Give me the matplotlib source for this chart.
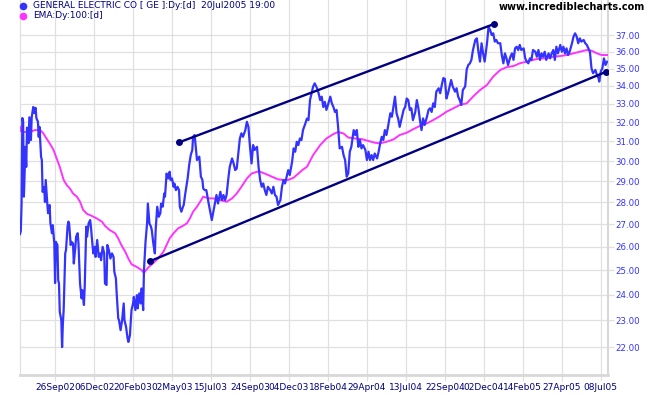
import matplotlib
matplotlib.use("Agg")
import matplotlib.pyplot as plt
from matplotlib.lines import Line2D
from matplotlib.ticker import FixedLocator, FixedFormatter, NullLocator, NullFormatter

# ---- data (trading-day index, price) ----
price_days = [0, 1, 2, 3, 4, 5, 7, 8, 9, 11, 12, 14, 15, 17, 18, 20, 21, 23, 24, 25,
              27, 28, 29, 31, 32, 33, 35, 36, 38, 39, 41, 42, 44, 45, 46, 48, 49, 50, 51, 53,
              54, 55, 56, 58, 59, 61, 62, 63, 65, 66, 68, 69, 71, 72, 74, 75, 77, 79, 80, 82,
              83, 85, 86, 88, 90, 91, 92, 94, 96, 97, 99, 101, 103, 104, 106, 108, 109, 111, 112, 114,
              116, 118, 120, 121, 123, 124, 126, 127, 129, 131, 133, 134, 136, 138, 139, 141, 143, 145, 146, 148,
              150, 151, 153, 155, 156, 158, 159, 161, 163, 164, 166, 168, 169, 171, 173, 174, 176, 178, 180, 181,
              183, 185, 186, 188, 190, 192, 193, 195, 197, 198, 200, 202, 204, 205, 207, 209, 210, 212, 214, 215,
              217, 219, 221, 222, 224, 227, 230, 232, 234, 235, 237, 239, 242, 244, 246, 248, 250, 252, 254, 257,
              259, 261, 263, 265, 267, 269, 272, 274, 276, 278, 280, 282, 284, 286, 289, 291, 293, 295, 297, 299,
              301, 304, 306, 308, 310, 312, 314, 316, 318, 321, 323, 325, 327, 329, 331, 334, 336, 338, 340, 342,
              344, 346, 349, 351, 353, 355, 357, 359, 361, 363, 366, 368, 370, 372, 374, 376, 378, 381, 383, 385,
              387, 389, 391, 393, 395, 398, 400, 402, 404, 406, 408, 410, 413, 415, 417, 419, 421, 423, 425, 428,
              430, 432, 434, 436, 438, 440, 443, 445, 447, 449, 451, 453, 455, 458, 460, 462, 464, 466, 468, 470,
              472, 475, 477, 479, 481, 483, 485, 487, 490, 492, 494, 496, 498, 500, 502, 504, 507, 509, 511, 513,
              515, 517, 519, 522, 524, 526, 528, 530, 532, 534, 537, 539, 541, 543, 545, 547, 549, 551, 553, 555,
              558, 560, 562, 564, 566, 568, 571, 573, 575, 577, 579, 581, 584, 586, 588, 590, 592, 594, 596, 599,
              601, 603, 605, 607, 609, 611, 613, 616, 618, 620, 622, 624, 626, 629, 631, 633, 635, 637, 639, 641,
              643, 646, 648, 650, 652, 654, 656, 658, 661, 663, 665, 667, 669, 671, 673, 675, 678, 680, 682, 684,
              686, 688, 690, 693, 695, 697, 699, 701, 703, 705, 708, 710, 712, 714, 716, 718, 720, 723, 725, 727,
              729, 731, 733, 735, 738, 740, 742, 743, 745, 747, 749, 751, 753]
price_vals = [26.56, 26.69, 27.88, 32.23, 32.06, 28.27, 30.72, 29.71, 31.72, 30.91, 32.27, 31.07, 32.27, 32.83, 32.50, 32.78, 32.23, 32.03, 31.24, 31.76,
              30.22, 30.05, 28.50, 28.73, 28.02, 29.07, 27.95, 27.50, 27.88, 27.04, 26.60, 26.96, 26.15, 24.48, 26.22, 26.08, 24.60, 24.46, 23.33, 23.01,
              22.00, 22.89, 23.40, 25.72, 25.86, 26.89, 27.12, 27.04, 26.08, 26.22, 26.15, 25.29, 26.00, 26.45, 26.60, 26.15, 24.46, 23.86, 24.19, 23.60,
              24.33, 26.89, 26.45, 27.04, 27.19, 26.89, 26.45, 25.72, 26.00, 25.57, 26.30, 25.57, 25.72, 25.43, 26.00, 25.72, 24.46, 24.40, 26.08, 25.86,
              25.50, 25.72, 25.57, 24.94, 24.67, 24.06, 23.08, 23.01, 22.63, 23.01, 23.66, 23.01, 22.76, 22.32, 22.19, 22.44, 23.40, 23.66, 23.92, 23.40,
              23.99, 23.47, 24.06, 23.66, 24.26, 23.40, 25.01, 26.22, 27.04, 27.95, 27.04, 26.89, 26.74, 26.15, 25.72, 26.74, 27.80, 27.34, 27.50, 27.95,
              27.80, 28.42, 28.27, 29.38, 29.14, 29.47, 29.07, 29.14, 28.74, 28.90, 28.58, 28.74, 28.58, 27.80, 27.57, 27.80, 27.88, 28.42, 28.90, 29.14,
              29.80, 30.30, 30.56, 31.24, 31.33, 30.05, 30.22, 29.23, 29.07, 28.66, 28.58, 28.58, 27.95, 27.57, 27.19, 27.57, 27.95, 28.35, 27.95, 28.50,
              28.11, 28.35, 28.11, 28.35, 29.07, 29.71, 30.13, 29.88, 29.55, 29.63, 30.38, 31.15, 31.42, 31.24, 31.59, 32.03, 31.76, 30.72, 29.88, 30.81,
              30.56, 30.72, 29.71, 29.07, 28.74, 28.90, 28.58, 28.35, 28.74, 28.58, 28.42, 28.74, 28.35, 28.27, 27.88, 28.11, 28.74, 29.07, 28.90, 29.23,
              29.55, 29.31, 29.96, 30.64, 30.47, 30.98, 30.81, 31.15, 31.07, 31.59, 31.94, 32.20, 32.12, 33.21, 33.59, 33.97, 34.15, 33.87, 33.59, 33.21,
              33.40, 32.83, 33.11, 32.67, 32.94, 33.40, 33.03, 32.83, 32.56, 32.67, 31.76, 30.64, 30.72, 30.30, 30.05, 29.23, 29.38, 30.47, 30.72, 31.59,
              31.33, 31.59, 30.72, 31.07, 30.64, 30.81, 30.56, 30.05, 30.47, 30.05, 30.30, 30.05, 30.38, 30.13, 30.47, 30.90, 31.24, 31.07, 31.59, 31.33,
              31.76, 32.49, 32.30, 32.83, 33.40, 32.49, 32.21, 31.76, 32.30, 32.67, 32.83, 33.30, 33.21, 32.67, 32.76, 32.12, 32.56, 33.21, 32.76, 32.12,
              31.59, 32.21, 31.86, 32.30, 32.67, 32.76, 32.56, 33.03, 32.83, 33.68, 33.87, 33.59, 34.06, 34.45, 34.40, 33.30, 33.59, 33.97, 34.34, 33.97,
              33.68, 33.87, 33.40, 33.21, 32.94, 33.77, 33.97, 34.96, 35.21, 35.30, 35.51, 36.10, 36.71, 36.81, 36.00, 35.41, 36.51, 35.90, 35.41, 36.51,
              37.53, 37.33, 37.02, 37.12, 36.61, 36.71, 36.51, 36.51, 35.80, 35.31, 35.90, 35.60, 35.21, 35.70, 35.90, 35.51, 36.20, 36.30, 36.10, 36.41,
              36.10, 36.20, 35.60, 35.41, 35.31, 35.60, 35.51, 36.10, 36.00, 35.70, 36.10, 35.51, 35.90, 35.70, 36.00, 35.51, 35.90, 35.60, 35.90, 36.10,
              35.51, 36.30, 35.90, 36.41, 36.00, 36.30, 35.90, 36.20, 35.80, 36.00, 36.51, 36.92, 37.12, 36.92, 36.51, 36.81, 36.61, 36.71, 36.51, 36.41,
              36.20, 36.00, 35.02, 34.73, 34.92, 34.63, 34.45, 34.25, 34.84, 35.02, 35.60, 35.21, 35.40]

ema_days = [0, 1, 6, 13, 19, 26, 30, 34, 38, 43, 47, 51, 56, 60, 64, 68, 73, 77, 81, 86,
            92, 98, 105, 109, 115, 122, 126, 130, 135, 139, 143, 150, 156, 159, 165, 171, 177, 184, 188, 192,
            197, 203, 209, 214, 218, 222, 227, 231, 235, 242, 248, 257, 265, 272, 278, 284, 291, 297, 304, 308,
            314, 323, 331, 338, 344, 351, 357, 363, 368, 376, 385, 393, 402, 408, 415, 421, 430, 438, 447, 455,
            462, 470, 479, 487, 496, 504, 513, 522, 530, 539, 547, 556, 564, 573, 581, 590, 599, 607, 616, 624,
            633, 641, 650, 658, 667, 675, 684, 693, 701, 710, 718, 727, 733, 740, 746, 753]
ema_vals = [31.76, 31.54, 31.49, 31.49, 31.59, 31.59, 31.41, 31.15, 30.90, 30.56, 30.13, 29.71, 29.07, 28.82, 28.66, 28.42, 28.27, 28.03, 27.65, 27.47,
            27.38, 27.27, 27.12, 26.93, 26.74, 26.60, 26.37, 26.08, 25.79, 25.50, 25.26, 25.14, 25.01, 24.90, 25.14, 25.31, 25.50, 25.79, 26.08, 26.37,
            26.60, 26.82, 26.93, 27.04, 27.27, 27.57, 27.80, 28.03, 28.27, 28.19, 28.19, 28.11, 28.03, 28.19, 28.42, 28.74, 29.14, 29.38, 29.47, 29.47,
            29.38, 29.23, 29.10, 29.07, 29.07, 29.18, 29.38, 29.58, 29.71, 30.30, 30.81, 31.15, 31.38, 31.49, 31.41, 31.20, 31.15, 31.12, 31.02, 30.93,
            30.90, 30.98, 31.10, 31.33, 31.45, 31.63, 31.81, 31.95, 32.12, 32.34, 32.57, 32.76, 32.94, 33.03, 33.40, 33.77, 34.06, 34.54, 34.92, 35.08,
            35.15, 35.31, 35.41, 35.51, 35.60, 35.60, 35.70, 35.74, 35.80, 35.90, 36.00, 36.10, 36.06, 35.90, 35.80, 35.80]

upper_days = [204, 608]
upper_vals = [30.95, 37.70]
lower_days = [167, 752]
lower_vals = [25.39, 34.82]

date_ticks = [45, 95, 145, 195, 245, 295, 345, 395, 445, 495, 545, 595, 645, 695, 745]
date_labels = ["26Sep02", "06Dec02", "20Feb03", "02May03", "15Jul03", "24Sep03", "04Dec03",
               "18Feb04", "29Apr04", "13Jul04", "22Sep04", "02Dec04", "14Feb05", "27Apr05", "08Jul05"]
price_ticks = [22, 23, 24, 25, 26, 27, 28, 29, 30, 31, 32, 33, 34, 35, 36, 37]

# ---- figure ----
W, H = 651, 395
fig = plt.figure(figsize=(W / 100, H / 100), dpi=100)
fig.patch.set_facecolor("white")
ax = fig.add_axes([20 / W, 20 / H, 588 / W, 375 / H])
ax.set_yscale("log")
ax.set_xlim(0, 754.2)
ax.set_ylim(21.0, 39.24)

grid_c = "#e0e0e0"
ax.yaxis.set_major_locator(FixedLocator(price_ticks))
ax.yaxis.set_major_formatter(FixedFormatter([f"{v:.2f}" for v in price_ticks]))
ax.yaxis.set_minor_locator(NullLocator())
ax.yaxis.set_minor_formatter(NullFormatter())
ax.set_xticks(date_ticks)
ax.set_xticklabels(date_labels)
ax.yaxis.tick_right()
ax.grid(True, color=grid_c, lw=0.9, zorder=0)
ax.set_axisbelow(True)

ax.tick_params(axis="y", which="both", length=4, width=0.9, color=grid_c,
               labelcolor="#3333ff", labelsize=6.2, pad=1)
ax.tick_params(axis="x", length=4, width=0.9, color=grid_c,
               labelcolor="#000080", labelsize=6.5, pad=2)

ax.spines["top"].set_visible(False)
ax.spines["left"].set_color(grid_c)
ax.spines["left"].set_linewidth(0.9)
ax.spines["right"].set_color("#d8d8d8")
ax.spines["right"].set_linewidth(1.5)
ax.spines["bottom"].set_color("#d8d8d8")
ax.spines["bottom"].set_linewidth(2)

ax.plot(ema_days, ema_vals, color="#ff33ff", lw=1.4, zorder=3)
ax.plot(price_days, price_vals, color="#3333ff", lw=1.6, zorder=4)
ax.plot(upper_days, upper_vals, color="#000080", lw=1.7, marker="o", ms=4, zorder=5)
ax.plot(lower_days, lower_vals, color="#000080", lw=1.7, marker="o", ms=4, zorder=5)

# ---- header texts ----
fig.add_artist(Line2D([23 / W], [1 - 5.5 / H], marker="o", ms=4.5, color="#3333ff",
                      transform=fig.transFigure))
fig.add_artist(Line2D([23 / W], [1 - 16 / H], marker="o", ms=4.5, color="#ff33ff",
                      transform=fig.transFigure))
fig.text(33 / W, 1 - 5.5 / H, "GENERAL ELECTRIC CO [ GE ]:Dy:[d]  20Jul2005 19:00",
         fontsize=6.5, color="#000080", va="center", ha="left")
fig.text(33 / W, 1 - 16 / H, "EMA:Dy:100:[d]", fontsize=6.5, color="#000080",
         va="center", ha="left")
fig.text(645 / W, 1 - 7.5 / H, "www.incrediblecharts.com", fontsize=7,
         fontweight="bold", color="black", va="center", ha="right")

fig.savefig("out.png", dpi=100)
